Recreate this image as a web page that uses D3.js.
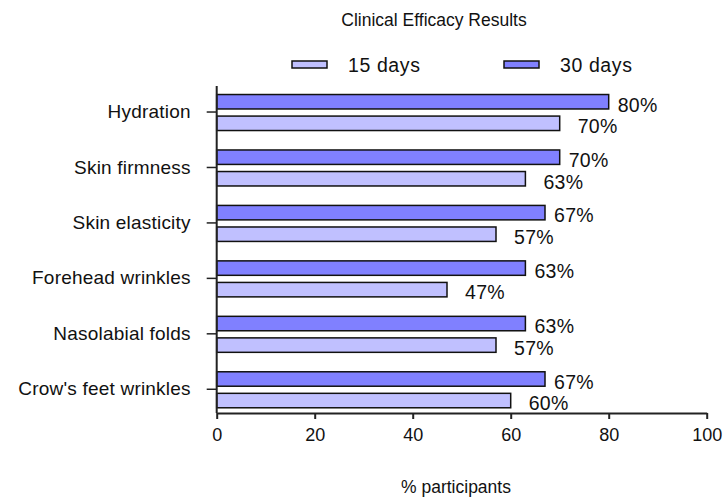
<!DOCTYPE html>
<html>
<head>
<meta charset="utf-8">
<script src="https://cdn.jsdelivr.net/npm/d3@7"></script>
<style>
  body { margin: 0; background: #fff; }
  text { font-family: "Liberation Sans", Arial, sans-serif; fill: #111; }
</style>
</head>
<body>
<div id="chart"></div>
<script>
// data
var categories = ["Hydration", "Skin firmness", "Skin elasticity", "Forehead wrinkles", "Nasolabial folds", "Crow's feet wrinkles"];
var series = ["30 days", "15 days"];
var days30 = [80, 70, 67, 63, 63, 67];
var days15 = [70, 63, 57, 47, 57, 60];
var xTicks = [0, 20, 40, 60, 80, 100];

var colors = {"30 days": "#8080ff", "15 days": "#c0c0ff"};
var labelShift = {"30 days": 9, "15 days": 18};

var width = 725, height = 498;

var svg = d3.select("#chart")
  .append("svg")
    .attr("width", width)
    .attr("height", height);

// scales
var x = d3.scaleLinear()
  .domain([0, 100])
  .range([216.7, 706.7]);

var y = d3.scaleBand()
  .domain(categories)
  .range([84.3, 417])
  .paddingInner(0);

var sub = d3.scaleBand()
  .domain(series)
  .range([-17.5, 18.5])
  .paddingInner(0.33);

var axisY = 413, axisTop = 86;

// rows of data
var rows = categories.map(function(c, i) {
  return {cat: c, values: [
    {s: "30 days", v: days30[i]},
    {s: "15 days", v: days15[i]}
  ]};
});

// bars
var groups = svg.append("g")
  .selectAll("g")
  .data(rows)
  .enter()
  .append("g")
    .attr("transform", function(d) { return "translate(0," + (y(d.cat) + y.bandwidth() / 2) + ")"; });

groups.selectAll("rect")
  .data(function(d) { return d.values; })
  .enter()
  .append("rect")
    .attr("x", x(0))
    .attr("y", function(d) { return sub(d.s); })
    .attr("width", function(d) { return x(d.v) - x(0); })
    .attr("height", sub.bandwidth())
    .style("fill", function(d) { return colors[d.s]; })
    .style("stroke", "#111")
    .style("stroke-width", 1.5);

// value labels
groups.selectAll("text")
  .data(function(d) { return d.values; })
  .enter()
  .append("text")
    .attr("x", function(d) { return x(d.v) + labelShift[d.s]; })
    .attr("y", function(d) { return sub(d.s) + sub.bandwidth() / 2 + 3; })
    .attr("dy", "0.35em")
    .style("font-size", "19.5px")
    .style("letter-spacing", "0.3px")
    .text(function(d) { return d.v + "%"; });

// x axis
var xAxis = svg.append("g")
  .attr("transform", "translate(0," + axisY + ")")
  .call(d3.axisBottom(x).tickValues(xTicks).tickSizeInner(6).tickSizeOuter(0).tickPadding(9));
xAxis.selectAll("text").style("font-size", "18px").style("fill", "#111");
xAxis.selectAll("line, path").style("stroke", "#222").style("stroke-width", 2);

// y axis
var yAxis = svg.append("g")
  .attr("transform", "translate(" + x(0) + ",0)")
  .call(d3.axisLeft(y).tickSizeInner(10).tickSizeOuter(0).tickPadding(16));
yAxis.select(".domain").remove();
yAxis.selectAll("text").style("font-size", "19px").style("letter-spacing", "0.2px").style("fill", "#111");
yAxis.selectAll("line").style("stroke", "#222").style("stroke-width", 1.5);
yAxis.append("line")
  .attr("x1", 0).attr("x2", 0)
  .attr("y1", axisTop).attr("y2", axisY)
  .style("stroke", "#222")
  .style("stroke-width", 2);

// title
svg.append("text")
  .attr("x", 434)
  .attr("y", 26)
  .attr("text-anchor", "middle")
  .style("font-size", "17.5px")
  .text("Clinical Efficacy Results");

// x axis title
svg.append("text")
  .attr("x", 456)
  .attr("y", 493)
  .attr("text-anchor", "middle")
  .style("font-size", "17.5px")
  .text("% participants");

// legend
var legendItems = [
  {s: "15 days", x: 292},
  {s: "30 days", x: 504}
];
var legend = svg.append("g")
  .selectAll("g")
  .data(legendItems)
  .enter()
  .append("g")
    .attr("transform", function(d) { return "translate(" + d.x + ",61)"; });
legend.append("rect")
  .attr("width", 35)
  .attr("height", 7)
  .style("fill", function(d) { return colors[d.s]; })
  .style("stroke", "#111")
  .style("stroke-width", 1.5);
legend.append("text")
  .attr("x", 56)
  .attr("y", 4)
  .attr("dy", "0.35em")
  .style("font-size", "19.5px")
  .style("letter-spacing", "0.6px")
  .text(function(d) { return d.s; });
</script>
</body>
</html>
